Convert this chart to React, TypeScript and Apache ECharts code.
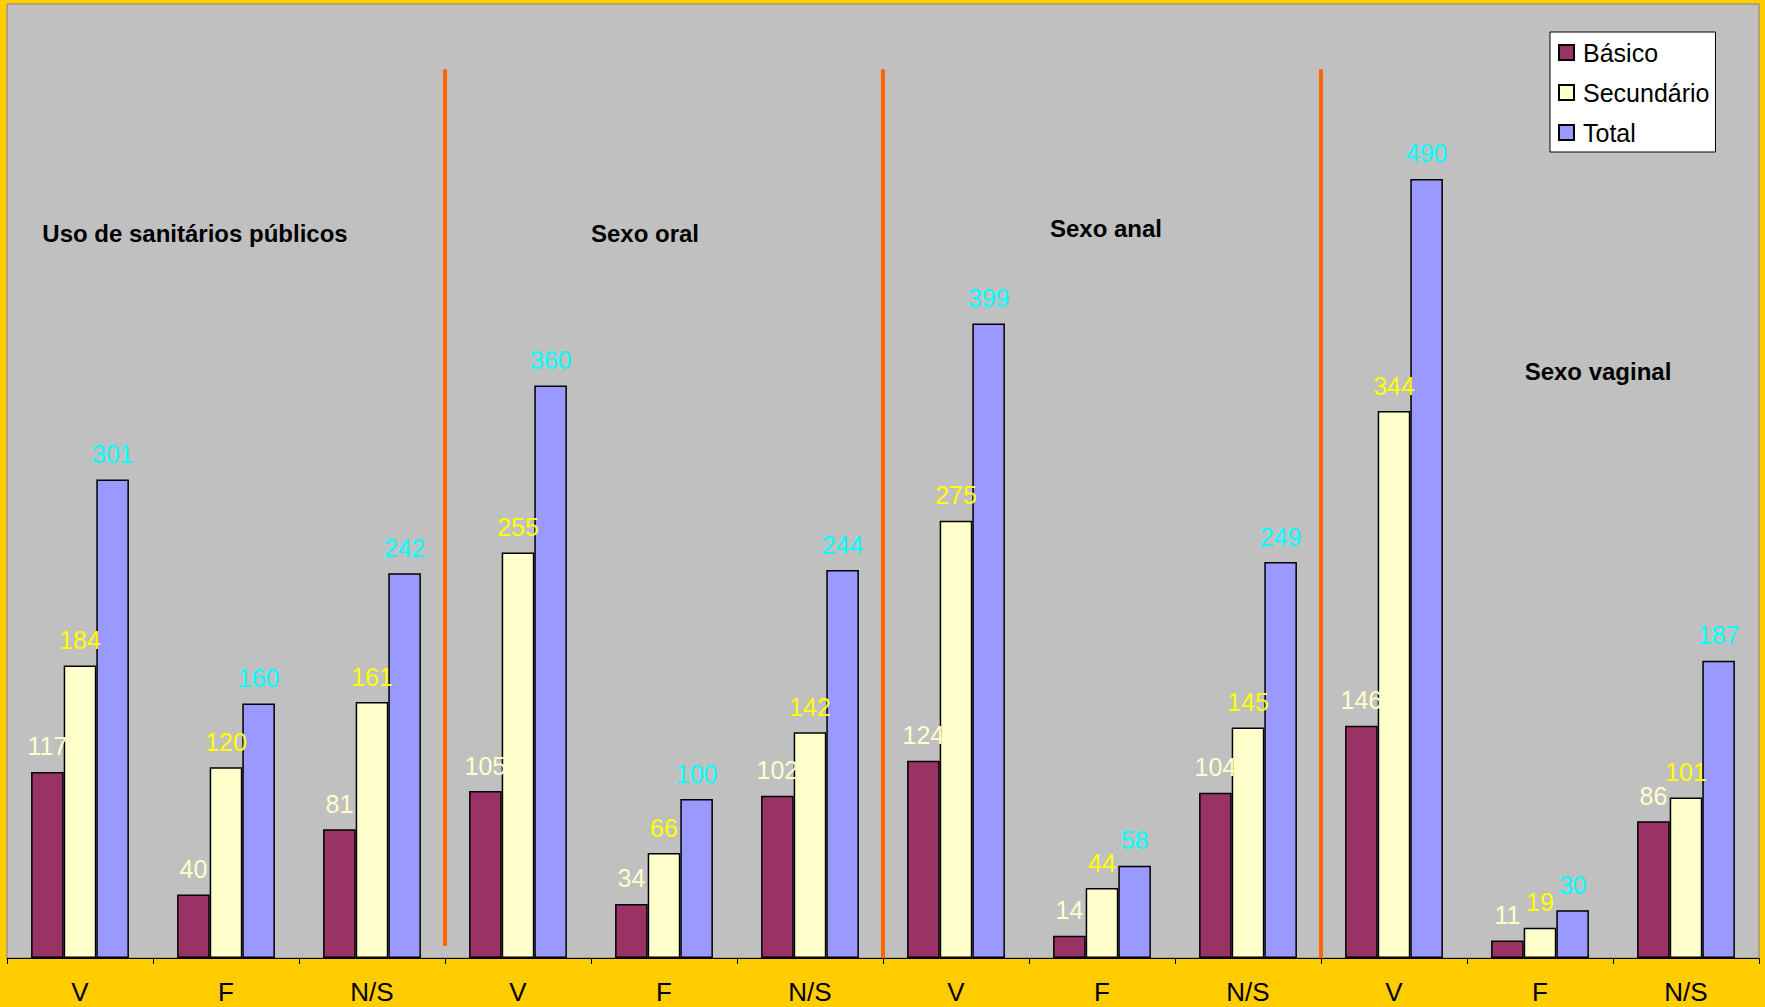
import React, { useEffect, useRef } from "react";
import * as echarts from "echarts";

const categories = ["V", "F", "N/S", "V", "F", "N/S", "V", "F", "N/S", "V", "F", "N/S"];
const basico = [117, 40, 81, 105, 34, 102, 124, 14, 104, 146, 11, 86];
const secundario = [184, 120, 161, 255, 66, 142, 275, 44, 145, 344, 19, 101];
const total = [301, 160, 242, 360, 100, 244, 399, 58, 249, 490, 30, 187];
const seriesNames = ["Básico", "Secundário", "Total"];
const groupTitles = ["Uso de sanitários públicos", "Sexo oral", "Sexo anal", "Sexo vaginal"];
const separators = [3, 6, 9];

const FONT = "'Liberation Sans', Arial, sans-serif";

export default function App() {
  const ref = useRef<HTMLDivElement>(null);
  useEffect(() => {
    document.body.style.margin = "0";
    const chart = echarts.init(ref.current!, undefined, { renderer: "svg" });
    const barBase = {
      type: "bar",
      barGap: "0%",
      barCategoryGap: "33%",
      xAxisIndex: 0,
      yAxisIndex: 0,
    };
    const mkLabel = (color: string) => ({
      show: true,
      position: "top",
      distance: 13,
      color,
      fontSize: 25,
      fontFamily: FONT,
    });
    const colors = ["#993366", "#FFFFCC", "#9999FF"];
    const labelColors = ["#FFFFCC", "#FFFF00", "#00FFFF"];
    const datas = [basico, secundario, total];
    const bars = datas.map((d, i) => ({
      ...barBase,
      name: seriesNames[i],
      data: d,
      itemStyle: { color: colors[i], borderColor: "#000", borderWidth: 1.5 },
      label: mkLabel(labelColors[i]),
      z: 2,
    }));
    const sepLines = separators.map((s, i) => [
      { coord: [s, i === 0 ? 7.5 : 0] },
      { coord: [s, 559] },
    ]);
    const titleFont = `bold 24px ${FONT}`;
    chart.setOption({
      animation: false,
      backgroundColor: "#FFCC00",
      textStyle: { fontFamily: FONT },
      grid: {
        left: 7,
        top: 4,
        right: 6,
        bottom: 49,
        show: true,
        backgroundColor: "#C0C0C0",
        borderColor: "#808080",
        borderWidth: 1,
        containLabel: false,
      },
      legend: {
        data: seriesNames,
        orient: "vertical",
        left: 1550,
        top: 32,
        backgroundColor: "#FFFFFF",
        borderColor: "#000",
        borderWidth: 1,
        borderRadius: 0,
        padding: [8, 6, 7, 8],
        itemGap: 15,
        itemWidth: 15,
        itemHeight: 15,
        icon: "rect",
        textStyle: { fontSize: 25, color: "#000", fontFamily: FONT, padding: [0, 0, 0, 4] },
      },
      xAxis: [
        {
          type: "category",
          data: categories,
          axisLine: { lineStyle: { color: "#000", width: 1 } },
          axisTick: { show: true, length: 6, lineStyle: { color: "#000" } },
          axisLabel: { color: "#000", fontSize: 26, margin: 21, fontFamily: FONT },
          splitLine: { show: false },
        },
        {
          type: "value",
          min: 0,
          max: 12,
          show: false,
        },
      ],
      yAxis: [
        {
          type: "value",
          min: 0,
          max: 600,
          show: false,
          splitLine: { show: false },
        },
      ],
      series: [
        ...bars,
        {
          type: "line",
          name: "sep",
          xAxisIndex: 1,
          yAxisIndex: 0,
          data: [],
          silent: true,
          markLine: {
            silent: true,
            symbol: ["none", "none"],
            label: { show: false },
            lineStyle: { color: "#FF6600", width: 4, type: "solid" },
            data: sepLines,
          },
          z: 3,
        },
      ],
      graphic: [
        { type: "text", x: 195, y: 233, style: { text: groupTitles[0], font: titleFont, fill: "#000", align: "center", verticalAlign: "middle" } },
        { type: "text", x: 645, y: 233, style: { text: groupTitles[1], font: titleFont, fill: "#000", align: "center", verticalAlign: "middle" } },
        { type: "text", x: 1106, y: 228, style: { text: groupTitles[2], font: titleFont, fill: "#000", align: "center", verticalAlign: "middle" } },
        { type: "text", x: 1598, y: 371, style: { text: groupTitles[3], font: titleFont, fill: "#000", align: "center", verticalAlign: "middle" } },
      ],
    });
    return () => chart.dispose();
  }, []);
  return <div ref={ref} style={{ width: 1765, height: 1007 }} />;
}
